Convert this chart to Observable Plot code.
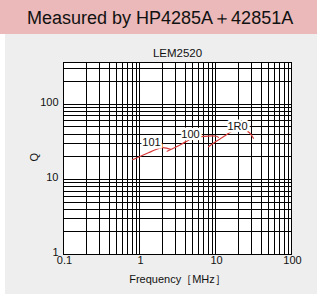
<!DOCTYPE html>
<html><head><meta charset="utf-8">
<script src="https://cdn.jsdelivr.net/npm/d3@7"></script>
<script src="https://cdn.jsdelivr.net/npm/@observablehq/plot@0.6"></script>
<style>
html,body{margin:0;padding:0;background:#fff;}
#wrap{position:relative;width:317px;height:294px;overflow:hidden;font-family:"Liberation Sans",Arial,sans-serif;}
#head{position:absolute;left:0;top:0;width:317px;height:34px;background:#ebb9b9;}
#head span{position:absolute;left:27px;top:6px;font-size:18px;color:#111;white-space:nowrap;}
#body{position:absolute;left:5px;top:34px;width:312px;height:260px;background:#eeeeee;}
#chart{position:absolute;left:0;top:34px;}
</style></head>
<body>
<div id="wrap">
  <div id="head"><span>Measured by HP4285A＋42851A</span></div>
  <div id="body"></div>
  <div id="chart"></div>
</div>
<script>
// Data (frequency in MHz, Q)
const freq101 = [0.81, 1.03, 1.31, 1.62, 1.95, 2.27, 2.56];
const q101    = [18.3, 20.3, 22.6, 24.8, 26.4, 26.1, 25.2];
const freq100 = [2.31, 3.46, 4.98, 7.17, 10.3, 10.9];
const q100    = [23.7, 28.9, 35.3, 37.5, 37.5, 36.3];
const freq1R0 = [8.09, 10.0, 12.4, 15.7, 20.1, 24.1, 28.0, 31.6];
const q1R0    = [27.2, 31.7, 36.3, 42.4, 46.7, 45.7, 41.7, 35.3];
const seriesNames = ["101", "100", "1R0"];
const labelFreq = [1.44, 4.69, 19.5];
const labelQ = [31, 40, 50];

const xTicks = [0.1, 1, 10, 100];
const xTickLabels = ["0.1", "1", "10", "100"];
const yTicks = [1, 10, 100];
const yTickLabels = ["1", "10", "100"];
const xGrid = [0.1,0.2,0.3,0.4,0.5,0.6,0.7,0.8,0.9,1,2,3,4,5,6,7,8,9,10,20,30,40,50,60,70,80,90,100];
const yGrid = [1,2,3,4,5,6,7,8,9,10,20,30,40,50,60,70,80,90,100,200,300];
const chartTitle = "LEM2520";
const xLabel = "Frequency［MHz］";
const yLabel = "Q";

const toRows = (fs, qs, name) => fs.map((f, i) => ({f, q: qs[i], name}));
const rows = [
  ...toRows(freq101, q101, "101"),
  ...toRows(freq100, q100, "100"),
  ...toRows(freq1R0, q1R0, "1R0")
];
const labels = seriesNames.map((n, i) => ({name: n, f: labelFreq[i], q: labelQ[i]}));
const xTickRows = xTicks.map((v, i) => ({v, t: xTickLabels[i]}));
const yTickRows = yTicks.map((v, i) => ({v, t: yTickLabels[i]}));

const red = "#d93a3a";
const plot = Plot.plot({
  width: 317, height: 260,
  marginLeft: 63, marginRight: 26, marginTop: 28, marginBottom: 40,
  style: {background: "transparent", fontFamily: "'Liberation Sans', Arial, sans-serif", fontSize: "10px", color: "#111"},
  x: {type: "log", domain: [0.1, 100], axis: null},
  y: {type: "log", domain: [1, 360], axis: null},
  marks: [
    Plot.frame({fill: "white", stroke: null}),
    Plot.ruleX(xGrid, {stroke: "#000", strokeWidth: 1, shapeRendering: "crispEdges"}),
    Plot.ruleY(yGrid, {stroke: "#000", strokeWidth: 1, shapeRendering: "crispEdges"}),
    Plot.line(rows, {x: "f", y: "q", z: "name", stroke: red, strokeWidth: 1.2, curve: "catmull-rom"}),
    Plot.text(labels, {x: "f", y: "q", text: "name", fontSize: 11, fill: "#111", stroke: "white", strokeWidth: 5, paintOrder: "stroke"}),
    Plot.frame({stroke: "#000", strokeWidth: 1, shapeRendering: "crispEdges"}),
    Plot.text(xTickRows, {x: "v", text: "t", frameAnchor: "bottom", dy: 9, dx: 1, fontSize: 11, fill: "#111"}),
    Plot.text(yTickRows, {y: "v", text: "t", frameAnchor: "left", dx: -5, dy: -2, textAnchor: "end", fontSize: 11, fill: "#111"}),
    Plot.text([chartTitle], {frameAnchor: "top", dy: -14, fontSize: 11.5, fill: "#111"}),
    Plot.text([xLabel], {frameAnchor: "bottom", dy: 28, fontSize: 11, fill: "#111"}),
    Plot.text([yLabel], {frameAnchor: "left", dx: -29, dy: 3, rotate: -90, fontSize: 11, fill: "#111"})
  ]
});
document.getElementById("chart").appendChild(plot);
</script>
</body></html>
